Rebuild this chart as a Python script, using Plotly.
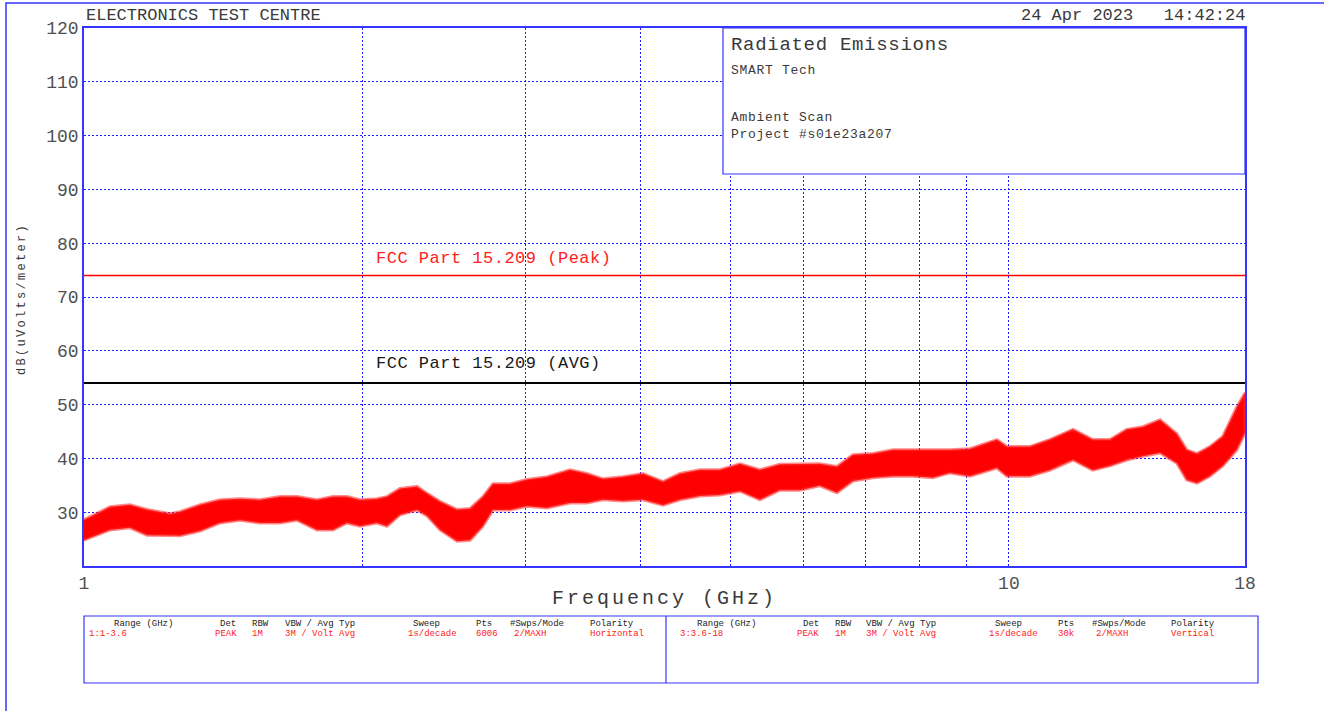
import math
import plotly.graph_objects as go

# ---- measured spectrum (envelope of the max-hold sweep) ----
freq_ghz = [1.0, 1.067, 1.121, 1.170, 1.239, 1.270, 1.335, 1.403, 1.475, 1.550,
            1.629, 1.699, 1.786, 1.859, 1.924, 1.988, 2.074, 2.126, 2.196, 2.291,
            2.349, 2.426, 2.531, 2.615, 2.700, 2.768, 2.887, 3.012, 3.166, 3.353,
            3.498, 3.640, 3.825, 4.021, 4.226, 4.409, 4.634, 4.870, 5.120, 5.380,
            5.654, 5.944, 6.246, 6.517, 6.782, 7.129, 7.491, 7.874, 8.277, 8.635,
            9.076, 9.705, 9.95, 10.53, 11.07, 11.73, 12.32, 12.86, 13.41, 13.96,
            14.57, 15.19, 15.57, 15.97, 16.49, 17.03, 17.64, 18.0]
upper_db = [28.6, 31.0, 31.4, 30.5, 29.7, 30.1, 31.4, 32.3, 32.5, 32.3,
            32.9, 32.9, 32.3, 32.9, 32.9, 32.3, 32.5, 32.9, 34.4, 34.8,
            33.5, 32.0, 30.5, 30.7, 32.9, 35.3, 35.3, 36.1, 36.6, 37.9,
            37.2, 36.2, 36.6, 37.2, 35.7, 37.2, 37.9, 37.9, 39.0, 37.9,
            38.9, 39.0, 39.0, 38.5, 40.7, 40.9, 41.6, 41.6, 41.6, 41.6,
            41.8, 43.5, 42.2, 42.2, 43.5, 45.4, 43.5, 43.5, 45.4, 45.9,
            47.2, 44.6, 41.6, 40.9, 42.2, 44.1, 49.6, 52.2]
lower_db = [24.8, 26.7, 27.1, 25.7, 25.6, 25.6, 26.5, 28.0, 28.5, 28.0,
            28.0, 28.5, 26.7, 26.7, 28.0, 27.4, 28.0, 27.4, 29.5, 30.4,
            29.3, 26.7, 24.6, 24.8, 27.4, 30.4, 30.4, 31.1, 30.8, 31.7,
            31.7, 32.3, 32.1, 32.3, 31.3, 32.3, 33.0, 33.2, 33.9, 32.3,
            34.1, 34.1, 34.9, 33.6, 35.8, 36.4, 36.7, 36.7, 36.4, 37.3,
            36.7, 38.2, 36.7, 36.7, 37.8, 39.7, 37.8, 38.6, 39.7, 40.4,
            41.0, 39.1, 36.0, 35.4, 36.7, 38.6, 41.6, 44.7]

# ---- limits ----
limit_span_ghz = [1.0, 18.0]
peak_limit_db = 74
avg_limit_db = 54
peak_label = "FCC Part 15.209 (Peak)"
avg_label = "FCC Part 15.209 (AVG)"

# ---- axes ----
y_ticks = [30, 40, 50, 60, 70, 80, 90, 100, 110, 120]
x_ticks = [1, 10, 18]
x_tick_text = ["1", "10", "18"]
x_minor_grid = [2, 3, 4, 5, 6, 7, 8, 9]

# ---- header / info text ----
lab_name = "ELECTRONICS TEST CENTRE"
stamp = "24 Apr 2023   14:42:24"
info_title = "Radiated Emissions"
info_lines = ["SMART Tech", "Ambient Scan", "Project #s01e23a207"]

# ---- scan settings table ----
table_headers = ["Range (GHz)", "Det", "RBW", "VBW / Avg Typ", "Sweep", "Pts",
                 "#Swps/Mode", "Polarity"]
scan_h = ["1:1-3.6", "PEAK", "1M", "3M / Volt Avg", "1s/decade", "6006",
          "2/MAXH", "Horizontal"]
scan_v = ["3:3.6-18", "PEAK", "1M", "3M / Volt Avg", "1s/decade", "30k",
          "2/MAXH", "Vertical"]

W, H = 1324, 711
L, R, T, B = 84, 1245, 28, 566
MONO = "Liberation Mono"
BLUE = "#3535ff"
GRID = "#2020ff"
TXT = "#3a3a3a"


def px(x):
    return (x - L) / (R - L)


def py(y):
    return (B - y) / (B - T)


def spaced(text, sp):
    return f'<span style="letter-spacing:{sp}px">{text}</span>'


fig = go.Figure()

# noisy trace band, with a soft edge like the sweep's spikes
fig.add_trace(go.Scatter(
    x=freq_ghz + freq_ghz[::-1],
    y=upper_db + lower_db[::-1],
    mode="lines", fill="toself", fillcolor="#ff0000",
    line=dict(color="rgba(255,40,40,0.55)", width=3),
    hoverinfo="skip", showlegend=False))

fig.add_trace(go.Scatter(
    x=limit_span_ghz, y=[peak_limit_db] * 2, mode="lines",
    line=dict(color="#ff0000", width=1.6), hoverinfo="skip", showlegend=False))
fig.add_trace(go.Scatter(
    x=limit_span_ghz, y=[avg_limit_db] * 2, mode="lines",
    line=dict(color="#000000", width=2), hoverinfo="skip", showlegend=False))

axis_common = dict(
    showgrid=True, gridcolor=GRID, gridwidth=1, griddash="2px,2px",
    showline=True, mirror=True, linecolor=BLUE, linewidth=1.5,
    ticks="", zeroline=False,
    tickfont=dict(family=MONO, size=18, color="#505050"),
)

fig.update_layout(
    width=W, height=H,
    margin=dict(l=L, r=W - R, t=T, b=H - B),
    paper_bgcolor="white", plot_bgcolor="white",
    showlegend=False,
    xaxis=dict(type="log", range=[0, math.log10(18)],
               tickmode="array", tickvals=x_ticks, ticktext=x_tick_text,
               minor=dict(tickvals=x_minor_grid, showgrid=True, gridcolor=GRID,
                          gridwidth=1, griddash="2px,2px", ticks=""),
               **axis_common),
    yaxis=dict(range=[20, 120], tickmode="array", tickvals=y_ticks,
               ticklabelstandoff=0, **axis_common),
)

shapes = [
    # outer page frame
    dict(type="rect", xref="paper", yref="paper",
         x0=px(6), x1=px(1345), y0=py(730), y1=py(3),
         line=dict(color=BLUE, width=1.5), fillcolor="rgba(0,0,0,0)", layer="above"),
    # info panel
    dict(type="rect", xref="paper", yref="paper",
         x0=px(723), x1=1, y0=py(174), y1=1,
         line=dict(color=BLUE, width=1.2), fillcolor="white", layer="above"),
    # scan settings table
    dict(type="rect", xref="paper", yref="paper",
         x0=0, x1=px(1258), y0=py(683), y1=py(616),
         line=dict(color=BLUE, width=1.2), fillcolor="rgba(0,0,0,0)", layer="above"),
    dict(type="line", xref="paper", yref="paper",
         x0=px(666), x1=px(666), y0=py(683), y1=py(616),
         line=dict(color=BLUE, width=1.2), layer="above"),
]
fig.update_layout(shapes=shapes)

ann = []


def add_text(text, x, y, size, color=TXT, xanchor="left", angle=0):
    ann.append(dict(text=text, x=x, y=y, xref="paper", yref="paper",
                    xanchor=xanchor, yanchor="middle", showarrow=False,
                    textangle=angle,
                    font=dict(family=MONO, size=size, color=color)))


add_text(lab_name, px(84), py(16), 17)
add_text(stamp, px(1247), py(16), 17, xanchor="right")

add_text(spaced(info_title, 0.7), px(729), py(45), 19)
add_text(spaced(info_lines[0], 0.7), px(729), py(71), 13)
add_text(spaced(info_lines[1], 0.7), px(729), py(118), 13)
add_text(spaced(info_lines[2], 0.7), px(729), py(134), 13)

add_text(spaced(peak_label, 0.5), px(374), py(258), 17, color="#ff2020")
add_text(spaced(avg_label, 0.5), px(374), py(363), 17, color="#1a1a1a")

add_text(spaced("Frequency (GHz)", 3), px(664), py(598), 20, xanchor="center")
add_text(spaced("dB(uVolts/meter)", 2.3), px(22), py(299), 12,
         xanchor="center", angle=-90)

left_cols_head = [112, 218, 250, 283, 411, 474, 508, 588]
left_cols_val = [87, 213, 250, 283, 406, 474, 512, 588]
right_cols_head = [695, 801, 833, 864, 993, 1056, 1090, 1169]
right_cols_val = [678, 795, 833, 864, 987, 1056, 1094, 1169]

for i, h in enumerate(table_headers):
    add_text(h, px(left_cols_head[i]), py(624), 9, color="#222222")
    add_text(h, px(right_cols_head[i]), py(624), 9, color="#222222")
    add_text(scan_h[i], px(left_cols_val[i]), py(634), 9, color="#ff2020")
    add_text(scan_v[i], px(right_cols_val[i]), py(634), 9, color="#ff2020")

fig.update_layout(annotations=ann)

fig.write_html("out.html")
